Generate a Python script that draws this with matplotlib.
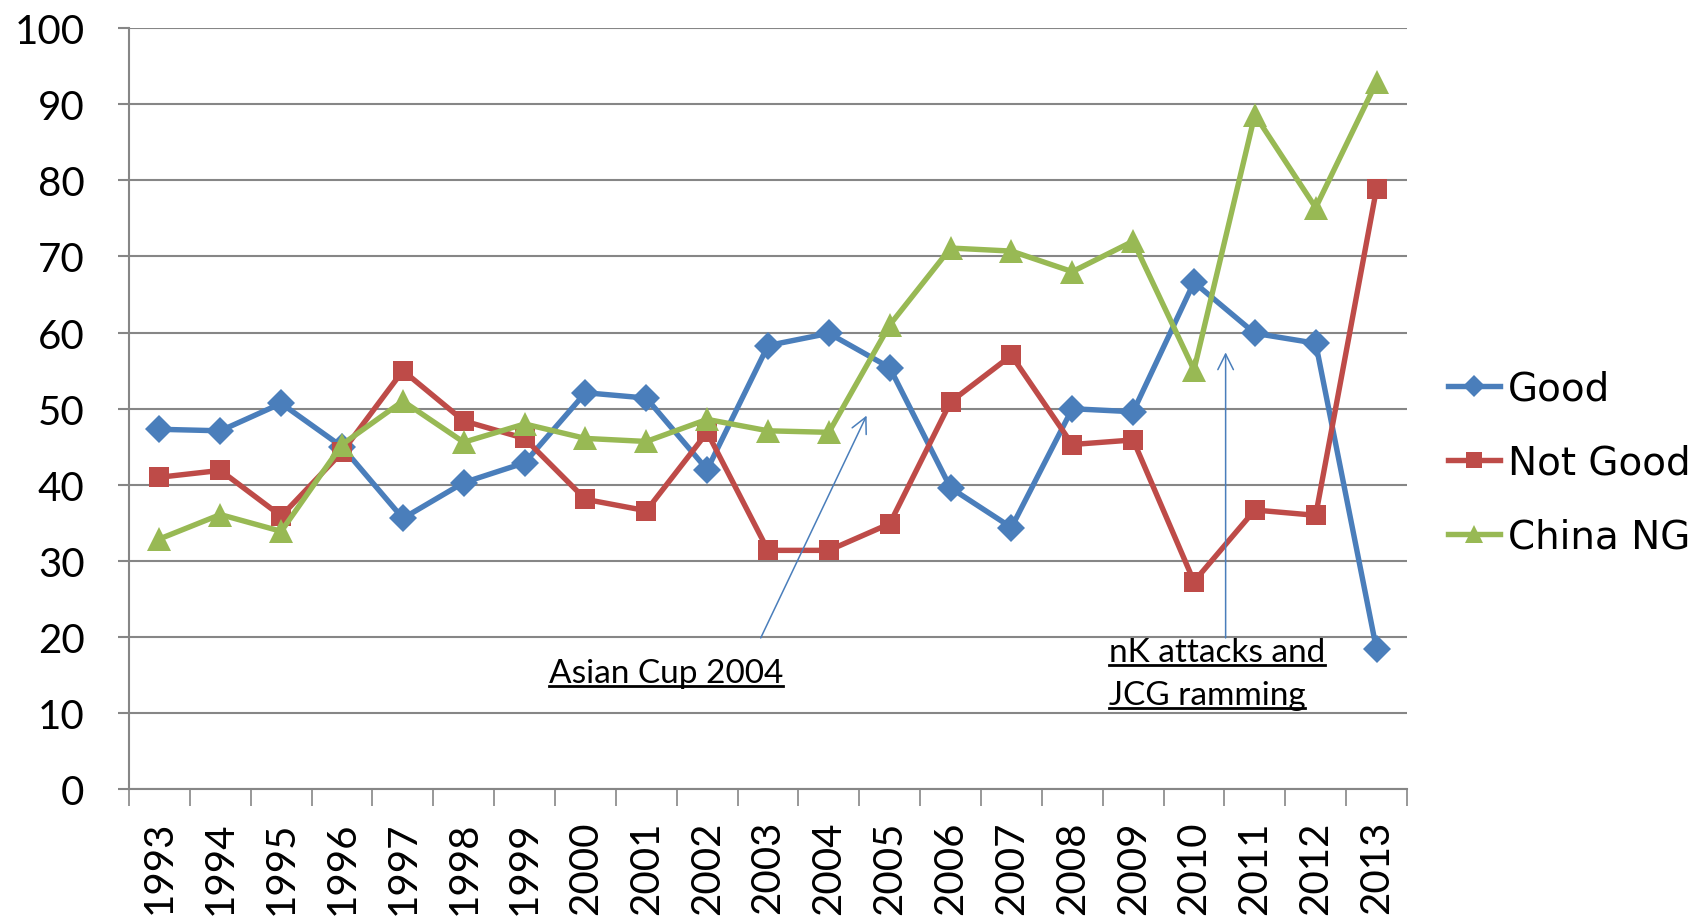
import matplotlib
matplotlib.use("Agg")
import matplotlib.pyplot as plt
from matplotlib.lines import Line2D
import numpy as np

YEARS = [str(y) for y in range(1993, 2014)]

GOOD = [47.3, 47.1, 50.7, 45.0, 35.6, 40.3, 42.9, 52.1, 51.4, 42.0, 58.3,
        59.9, 55.4, 39.6, 34.4, 50.0, 49.6, 66.6, 59.9, 58.6, 18.4]
NOT_GOOD = [41.0, 41.9, 35.9, 44.3, 55.0, 48.4, 46.1, 38.1, 36.6, 46.9, 31.4,
            31.4, 34.9, 50.9, 57.0, 45.3, 45.9, 27.3, 36.7, 36.0, 78.9]
CHINA_NG = [32.9, 36.1, 33.9, 45.3, 51.0, 45.6, 48.0, 46.1, 45.7, 48.6, 47.1,
            46.9, 61.0, 71.1, 70.7, 68.0, 72.0, 55.1, 88.6, 76.4, 92.9]

SERIES = [
    ("Good", GOOD, "#4A7EBB", "D", 14),
    ("Not Good", NOT_GOOD, "#BE4B48", "s", 15),
    ("China NG", CHINA_NG, "#98B954", "^", 17),
]

GRID = "#868686"
TICK_FONT = "Lato"

fig = plt.figure(figsize=(17.05, 9.2), dpi=100)
ax = fig.add_axes([0.0757, 0.1408, 0.7495, 0.8277])

x = np.arange(len(YEARS))
for name, vals, color, marker, ms in SERIES:
    ax.plot(x, vals, color=color, lw=3.9, marker=marker, markersize=ms,
            markeredgewidth=0, label=name)

ax.set_xlim(-0.5, len(YEARS) - 0.5)
ax.set_ylim(0, 100)
ax.set_yticks(range(0, 101, 10))
ax.yaxis.grid(True, color=GRID, lw=1.5)
ax.set_axisbelow(True)

ax.set_xticks(x)
ax.set_xticklabels(YEARS, rotation=90, fontsize=29, family=TICK_FONT)
ax.set_xticks(np.arange(-0.5, len(YEARS)), minor=True)
ax.tick_params(axis="x", which="major", length=0, pad=22)
ax.tick_params(axis="x", which="minor", length=12, width=1.2, color=GRID,
               direction="out")
ax.tick_params(axis="y", which="major", length=8, width=1.5, color=GRID,
               pad=24, labelsize=29)
for lab in ax.get_yticklabels():
    lab.set_family(TICK_FONT)

for side in ["top", "right"]:
    ax.spines[side].set_visible(False)
for side in ["left", "bottom"]:
    ax.spines[side].set_color(GRID)
    ax.spines[side].set_linewidth(1.5)

# annotations
arrow_color = "#4A7EBB"
ax.annotate("", xy=(11.62, 49.1), xytext=(9.88, 19.9),
            arrowprops=dict(arrowstyle="->", color=arrow_color, lw=1.1,
                            mutation_scale=28, shrinkA=0, shrinkB=0))
ax.annotate("", xy=(17.52, 57.4), xytext=(17.52, 19.9),
            arrowprops=dict(arrowstyle="->", color=arrow_color, lw=1.1,
                            mutation_scale=28, shrinkA=0, shrinkB=0))

notes = [
    ax.text(6.40, 15.3, "Asian Cup 2004", fontsize=24, family=TICK_FONT,
            va="center", ha="left"),
    ax.text(15.60, 18.1, "nK attacks and", fontsize=24, family=TICK_FONT,
            va="center", ha="left"),
    ax.text(15.60, 12.4, "JCG ramming", fontsize=24, family=TICK_FONT,
            va="center", ha="left"),
]

leg = fig.legend(loc="center left", bbox_to_anchor=(0.849, 0.496),
                 frameon=False, prop={"family": "DejaVu Sans", "size": 28},
                 handlelength=1.35, handletextpad=0.2, labelspacing=0.93,
                 borderpad=0, borderaxespad=0, markerscale=0.8)

# underline the annotation texts
fig.canvas.draw()
renderer = fig.canvas.get_renderer()
inv = fig.transFigure.inverted()
for t in notes:
    bb = t.get_window_extent(renderer)
    (x0, y0), (x1, _) = inv.transform([(bb.x0, bb.y0 + 2), (bb.x1, bb.y0)])
    fig.add_artist(Line2D([x0, x1], [y0, y0], color="black", lw=2,
                          transform=fig.transFigure))

fig.savefig("out.png", dpi=100)
